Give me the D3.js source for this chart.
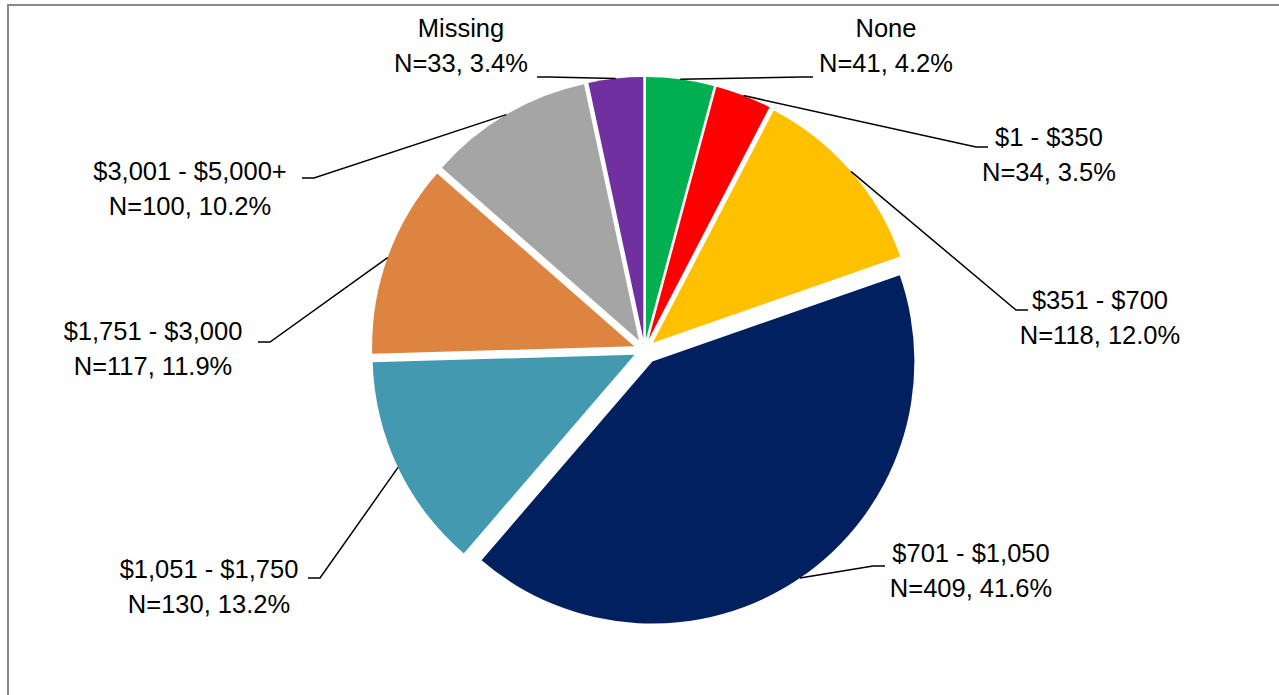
<!DOCTYPE html>
<html>
<head>
<meta charset="utf-8">
<script src="https://d3js.org/d3.v7.min.js"></script>
<style>
    body { margin: 0; background: #fff; }
    .label { font-family: "Liberation Sans", Arial, sans-serif; font-size: 25.5px; fill: #000; }
</style>
</head>
<body>
<div id="pie"></div>
<script>
// data
var categories = ["None", "$1 - $350", "$351 - $700", "$701 - $1,050", "$1,051 - $1,750", "$1,751 - $3,000", "$3,001 - $5,000+", "Missing"];
var counts = [41, 34, 118, 409, 130, 117, 100, 33];
var percents = ["4.2%", "3.5%", "12.0%", "41.6%", "13.2%", "11.9%", "10.2%", "3.4%"];
var colors = ["#00B050", "#FF0000", "#FFC000", "#002060", "#4399B0", "#DD8440", "#A5A5A5", "#7030A0"];

// label layout: text centre x, first baseline y, leader end x/y, side
var labelPos = [
    { x: 886, y: 37, ex: 813, ey: 77, side: -1 },
    { x: 1049, y: 146, ex: 988, ey: 147, side: -1 },
    { x: 1100, y: 309, ex: 1028, ey: 310, side: -1 },
    { x: 971, y: 562, ex: 885, ey: 566, side: -1 },
    { x: 209, y: 578, ex: 308, ey: 578, side: 1 },
    { x: 153, y: 340, ex: 258, ey: 342, side: 1 },
    { x: 190, y: 180, ex: 302, ey: 178, side: 1 },
    { x: 461, y: 37, ex: 537, ey: 77, side: 1 }
];

makeChart();

function makeChart() {
    var svgWidth = 1279;
    var svgHeight = 695;
    var cx = 644.5, cy = 350;
    var radius = 262;
    // slice explosion, the big slice is pulled out a bit further
    var explode = 11;
    var explodeBig = 14;

    var svg = d3.select("#pie")
        .append("svg")
        .attr("width", svgWidth)
        .attr("height", svgHeight)
        .style("display", "block");

    // frame
    svg.append("rect")
        .attr("x", 8)
        .attr("y", 5)
        .attr("width", svgWidth + 20)
        .attr("height", svgHeight + 20)
        .attr("fill", "none")
        .attr("stroke", "#898989")
        .attr("stroke-width", 2);

    var data = categories.map(function (c, i) {
        return { name: c, n: counts[i], pct: percents[i], color: colors[i], pos: labelPos[i] };
    });

    // Step 1: pie layout, clockwise from 12 o'clock
    var pie = d3.pie()
        .sort(null)
        .value(d => d.n);

    var arcs = pie(data);
    var maxN = d3.max(counts);

    var arc = d3.arc()
        .innerRadius(0)
        .outerRadius(radius);

    var chartGroup = svg.append("g")
        .attr("transform", `translate(${cx}, ${cy})`);

    function mid(d) { return (d.startAngle + d.endAngle) / 2; }
    function offset(d) { return d.data.n === maxN ? explodeBig : explode; }

    // Step 2: exploded slices
    chartGroup.selectAll("path")
        .data(arcs)
        .enter()
        .append("path")
        .attr("d", arc)
        .attr("fill", d => d.data.color)
        .attr("transform", d => `translate(${Math.sin(mid(d)) * offset(d)}, ${-Math.cos(mid(d)) * offset(d)})`);

    // Step 3: leader lines
    svg.append("g")
        .selectAll("polyline")
        .data(arcs)
        .enter()
        .append("polyline")
        .attr("fill", "none")
        .attr("stroke", "#000")
        .attr("stroke-width", 1.5)
        .attr("points", function (d) {
            var a = mid(d);
            var r = radius + offset(d);
            var sx = cx + Math.sin(a) * r;
            var sy = cy - Math.cos(a) * r;
            var p = d.data.pos;
            var bx = p.ex + p.side * 12;
            return [[sx, sy], [bx, p.ey], [p.ex, p.ey]].join(" ");
        });

    // Step 4: labels
    var labels = svg.append("g")
        .selectAll("text")
        .data(arcs)
        .enter()
        .append("text")
        .attr("class", "label")
        .attr("text-anchor", "middle");

    labels.append("tspan")
        .attr("x", d => d.data.pos.x)
        .attr("y", d => d.data.pos.y)
        .text(d => d.data.name);

    labels.append("tspan")
        .attr("x", d => d.data.pos.x)
        .attr("y", d => d.data.pos.y + 35)
        .text(d => `N=${d.data.n}, ${d.data.pct}`);
}
</script>
</body>
</html>
